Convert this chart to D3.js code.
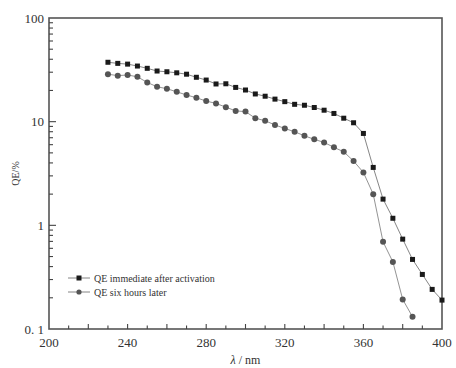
<!DOCTYPE html>
<html>
<head>
<meta charset="utf-8">
<script src="https://cdn.jsdelivr.net/npm/d3@7"></script>
<style>
  body { margin: 0; background: #fff; }
  text { font-family: "Liberation Serif", "DejaVu Serif", serif; fill: #333; }
</style>
</head>
<body>
<script>
// data
const wavelength1 = [230,235,240,245,250,255,260,265,270,275,280,285,290,295,300,305,310,315,320,
  325,330,335,340,345,350,355,360,365,370,375,380,385,390,395,400];
const qeImmediate = [37.4,36.5,35.9,34.4,32.7,30.8,30.3,29.6,28.7,26.8,25.2,23.1,23.2,21.4,20.2,18.5,17.6,16.5,15.6,
  14.7,14.4,13.7,12.9,12.0,10.8,9.76,7.7,3.62,1.79,1.17,0.736,0.469,0.336,0.241,0.19];

const wavelength2 = [230,235,240,245,250,255,260,265,270,275,280,285,290,295,300,305,310,315,320,
  325,330,335,340,345,350,355,360,365,370,375,380,385];
const qeSixHours = [28.7,27.8,28.2,27.1,23.9,21.7,20.8,19.4,18.1,17.0,15.8,15.0,13.8,12.7,12.5,10.8,10.2,9.3,8.6,
  7.99,7.31,6.75,6.31,5.65,5.12,4.17,3.24,2.0,0.693,0.444,0.193,0.131];

const xTicks = [200,240,280,320,360,400];
const yTicks = [0.1,1,10,100];
const yTickLabels = ["0. 1","1","10","100"];

const w = 456, h = 368;
const mLeft = 49, mRight = 442, mTop = 18, mBottom = 329;

const svg = d3.select("body").append("svg").attr("width", w).attr("height", h);

const x = d3.scaleLinear().domain([200,400]).range([mLeft,mRight]);
const y = d3.scaleLog().domain([0.1,100]).range([mBottom,mTop]);

// frame
svg.append("rect")
  .attr("x", mLeft).attr("y", mTop)
  .attr("width", mRight-mLeft).attr("height", mBottom-mTop)
  .attr("fill", "none").attr("stroke", "#555").attr("stroke-width", 1.6);

// bottom ticks (inward)
const xMinor = d3.range(210, 400, 10);
svg.selectAll(".xtick")
  .data(xMinor).enter()
  .append("line")
  .attr("x1", d => x(d)).attr("x2", d => x(d))
  .attr("y1", mBottom).attr("y2", d => mBottom - (d % 20 === 0 ? 5 : 3.5))
  .attr("stroke", "#444").attr("stroke-width", 1.1);

svg.selectAll(".xlabel")
  .data(xTicks).enter()
  .append("text")
  .attr("x", d => x(d)).attr("y", mBottom + 18)
  .attr("text-anchor", "middle")
  .attr("font-size", 13)
  .text(d => d);

// left ticks (log minor)
const yMinor = [];
[0.1,1,10].forEach(dec => { for (let k = 2; k <= 9; k++) yMinor.push(dec*k); });
svg.selectAll(".ytick")
  .data(yMinor).enter()
  .append("line")
  .attr("x1", mLeft).attr("x2", mLeft + 4)
  .attr("y1", d => y(d)).attr("y2", d => y(d))
  .attr("stroke", "#444").attr("stroke-width", 1.1);

svg.selectAll(".ymajor")
  .data([1,10]).enter()
  .append("line")
  .attr("x1", mLeft).attr("x2", mLeft + 7)
  .attr("y1", d => y(d)).attr("y2", d => y(d))
  .attr("stroke", "#444").attr("stroke-width", 1.1);

svg.selectAll(".ylabel")
  .data(yTicks).enter()
  .append("text")
  .attr("x", mLeft - 5).attr("y", d => y(d) + 4.5)
  .attr("text-anchor", "end")
  .attr("font-size", 13)
  .text((d,i) => yTickLabels[i]);

// axis titles
svg.append("text")
  .attr("transform", `translate(19,${(mTop+mBottom)/2}) rotate(-90)`)
  .attr("text-anchor", "middle")
  .attr("font-size", 10)
  .text("QE/%");

const xt = svg.append("text")
  .attr("x", (mLeft+mRight)/2).attr("y", 364)
  .attr("text-anchor", "middle")
  .attr("font-size", 12);
xt.append("tspan").attr("font-style", "italic").text("λ");
xt.append("tspan").text(" / nm");

// series
const s1 = wavelength1.map((d,i) => ({x: d, y: qeImmediate[i]}));
const s2 = wavelength2.map((d,i) => ({x: d, y: qeSixHours[i]}));

const line = d3.line().x(d => x(d.x)).y(d => y(d.y));

svg.append("path").datum(s1)
  .attr("d", line).attr("fill", "none")
  .attr("stroke", "#666").attr("stroke-width", 0.8);
svg.append("path").datum(s2)
  .attr("d", line).attr("fill", "none")
  .attr("stroke", "#777").attr("stroke-width", 0.8);

svg.selectAll(".sq")
  .data(s1).enter()
  .append("rect")
  .attr("x", d => x(d.x) - 2.5).attr("y", d => y(d.y) - 2.5)
  .attr("width", 5).attr("height", 5)
  .attr("fill", "#1a1a1a");

svg.selectAll(".ci")
  .data(s2).enter()
  .append("circle")
  .attr("cx", d => x(d.x)).attr("cy", d => y(d.y))
  .attr("r", 3)
  .attr("fill", "#555");

// legend
const legend = [
  {label: "QE immediate after activation", shape: "square"},
  {label: "QE six hours later", shape: "circle"}
];
const lg = svg.selectAll(".legend")
  .data(legend).enter()
  .append("g")
  .attr("transform", (d,i) => `translate(68,${278 + i*14})`);
lg.append("line")
  .attr("x1", 0).attr("x2", 22).attr("y1", 0).attr("y2", 0)
  .attr("stroke", "#666").attr("stroke-width", 0.8);
lg.filter(d => d.shape === "square").append("rect")
  .attr("x", 8.5).attr("y", -2.5).attr("width", 5).attr("height", 5).attr("fill", "#1a1a1a");
lg.filter(d => d.shape === "circle").append("circle")
  .attr("cx", 11).attr("cy", 0).attr("r", 2.6).attr("fill", "#555");
lg.append("text")
  .attr("x", 26).attr("y", 3.5)
  .attr("font-size", 10)
  .text(d => d.label);
</script>
</body>
</html>
